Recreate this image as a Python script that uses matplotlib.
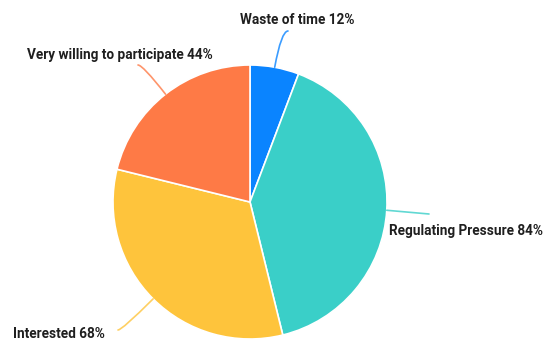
import numpy as np
import matplotlib
matplotlib.use("Agg")
import matplotlib.pyplot as plt

labels = ["Waste of time", "Regulating Pressure", "Interested", "Very willing to participate"]
values = [12, 84, 68, 44]
colors = ["#0A84FF", "#3ACFC8", "#FEC43C", "#FE7A46"]

# label anchor positions (pixel coords, y from bottom) and leader-line ends
label_pos = [(240, 322), (389, 111), (13, 8), (27, 287)]
line_end = [(288, 311), (429, 128), (118, 12), (138, 277)]

W, H = 543, 342
cx, cy, r = 250, 140, 137

plt.rcParams["font.family"] = ["Roboto", "DejaVu Sans"]

fig = plt.figure(figsize=(W / 100, H / 100), dpi=100)
ax = fig.add_axes([0, 0, 1, 1])

wedges, _ = ax.pie(values, colors=colors, startangle=90, counterclock=False,
                   center=(cx, cy), radius=r, frame=True,
                   wedgeprops=dict(edgecolor="white", linewidth=1.2))
ax.set_xlim(0, W)
ax.set_ylim(0, H)
ax.axis("off")

for w, lab, v, c, pos, end in zip(wedges, labels, values, colors, label_pos, line_end):
    mid_deg = (w.theta1 + w.theta2) / 2
    mid = np.deg2rad(mid_deg)
    start = (cx + r * np.cos(mid), cy + r * np.sin(mid))
    if abs(np.cos(mid)) > 0.95:
        conn = "arc3,rad=0"
    else:
        conn = f"angle3,angleA=0,angleB={mid_deg % 180:.1f}"
    ax.annotate("", xy=start, xytext=end,
                arrowprops=dict(arrowstyle="-", color=c, lw=1.2, alpha=0.8,
                                connectionstyle=conn, shrinkA=0, shrinkB=0))
    ax.text(pos[0], pos[1], f"{lab} {v}%", fontsize=9.8, fontweight="bold",
            color="#1f1f1f", ha="left", va="center")

fig.savefig("out.png", dpi=100)
